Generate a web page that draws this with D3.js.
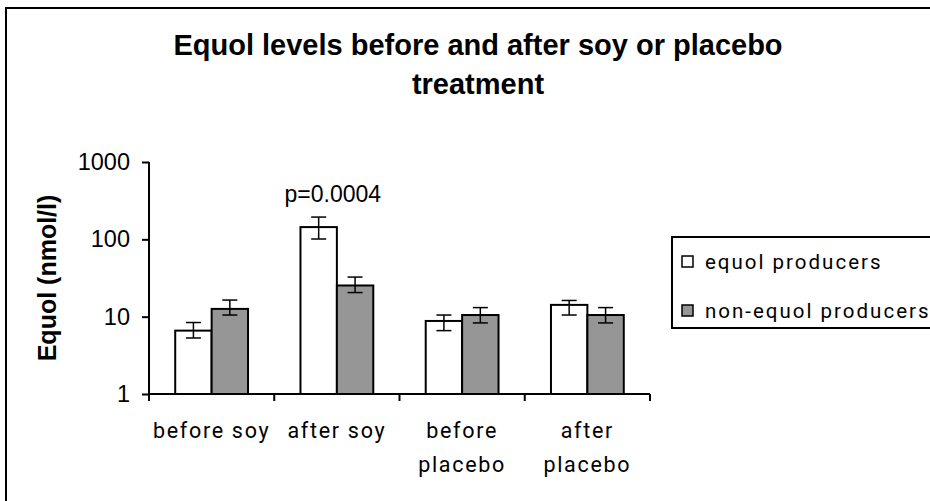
<!DOCTYPE html>
<html>
<head>
<meta charset="utf-8">
<script src="https://cdn.jsdelivr.net/npm/d3@7"></script>
<style>
  body { margin: 0; background: #fff; }
  svg { display: block; }
</style>
</head>
<body>
<div id="chart"></div>
<script>
// data
var categories = ["before soy", "after soy", "before placebo", "after placebo"]
var catLines = [["before soy"], ["after soy"], ["before", "placebo"], ["after", "placebo"]]
var seriesNames = ["equol producers", "non-equol producers"]
var producers = [6.6, 144, 8.8, 14.2]
var producersHi = [8.4, 194, 10.5, 16.2]
var producersLo = [5.3, 101, 6.6, 10.5]
var nonProducers = [12.6, 25.3, 10.5, 10.5]
var nonHi = [16.4, 32.5, 13.1, 13.1]
var nonLo = [10.5, 20.5, 8.3, 8.3]
var yTicks = [1, 10, 100, 1000]
var annotation = "p=0.0004"

var fills = ["#ffffff", "#969696"]

width = 930
height = 501

var svg = d3.select('#chart').append('svg').attr('width', width).attr('height', height)

// outer chart frame (runs off the right and bottom edge)
svg.append('rect').attr('x', 6).attr('y', 8).attr('width', 940).attr('height', 520)
  .attr('fill', 'none').attr('stroke', '#000').attr('stroke-width', 2)

// title
var title = svg.append('text').attr('text-anchor', 'middle')
  .attr('font-family', 'Liberation Sans, Arial, sans-serif').attr('font-weight', 'bold')
  .attr('font-size', 29)
title.append('tspan').attr('x', 478).attr('y', 55).text('Equol levels before and after soy or placebo')
title.append('tspan').attr('x', 478).attr('y', 94).text('treatment')

var x0 = d3.scaleBand().domain(categories).range([149, 650]).paddingInner(0).paddingOuter(0)
var x1 = d3.scaleBand().domain(seriesNames).range([0, x0.bandwidth()]).paddingInner(0).paddingOuter(0.72)
var y = d3.scaleLog().domain([1, 1000]).range([394, 162])

var rows = categories.map(function(c, i) {
  return [
    {cat: c, s: seriesNames[0], v: producers[i], hi: producersHi[i], lo: producersLo[i], k: 0},
    {cat: c, s: seriesNames[1], v: nonProducers[i], hi: nonHi[i], lo: nonLo[i], k: 1}
  ]
})

var groups = svg.append('g').selectAll('g').data(rows).join('g')
  .attr('transform', function(d) { return 'translate(' + x0(d[0].cat) + ',0)' })

groups.selectAll('rect').data(function(d) { return d }).join('rect')
  .attr('x', function(d) { return x1(d.s) })
  .attr('y', function(d) { return y(d.v) })
  .attr('width', x1.bandwidth())
  .attr('height', function(d) { return y(1) - y(d.v) })
  .attr('fill', function(d) { return fills[d.k] })
  .attr('stroke', '#000').attr('stroke-width', 2)

// error bars
var err = groups.selectAll('g.err').data(function(d) { return d }).join('g').attr('class', 'err')
  .attr('stroke', '#000').attr('stroke-width', 1.5)
err.append('line')
  .attr('x1', function(d) { return x1(d.s) + x1.bandwidth() / 2 })
  .attr('x2', function(d) { return x1(d.s) + x1.bandwidth() / 2 })
  .attr('y1', function(d) { return y(d.hi) })
  .attr('y2', function(d) { return y(d.lo) })
err.append('line')
  .attr('x1', function(d) { return x1(d.s) + x1.bandwidth() / 2 - 7.5 })
  .attr('x2', function(d) { return x1(d.s) + x1.bandwidth() / 2 + 7.5 })
  .attr('y1', function(d) { return y(d.hi) }).attr('y2', function(d) { return y(d.hi) })
err.append('line')
  .attr('x1', function(d) { return x1(d.s) + x1.bandwidth() / 2 - 7.5 })
  .attr('x2', function(d) { return x1(d.s) + x1.bandwidth() / 2 + 7.5 })
  .attr('y1', function(d) { return y(d.lo) }).attr('y2', function(d) { return y(d.lo) })

// y axis
var yAxis = svg.append('g').attr('transform', 'translate(149,0)')
  .call(d3.axisLeft(y).tickValues(yTicks).tickFormat(d3.format('d')).tickSize(7).tickPadding(12))
yAxis.select('.domain').attr('d', 'M0,' + y(1000) + 'V' + y(1)).attr('stroke-width', 2)
yAxis.selectAll('.tick line').attr('stroke-width', 2)
yAxis.selectAll('.tick text').attr('font-family', 'Liberation Sans, Arial, sans-serif')
  .attr('font-size', 23.5).attr('fill', '#000')

// x axis
var xAxis = svg.append('g').attr('transform', 'translate(0,' + y(1) + ')')
xAxis.append('line').attr('x1', 149).attr('x2', 650).attr('stroke', '#000').attr('stroke-width', 2)
var bounds = categories.map(function(c) { return x0(c) }).concat([x0.range()[1]])
xAxis.selectAll('line.tk').data(bounds).join('line').attr('class', 'tk')
  .attr('x1', function(d) { return d }).attr('x2', function(d) { return d })
  .attr('y1', 0).attr('y2', 7).attr('stroke', '#000').attr('stroke-width', 2)

var catText = svg.append('g').selectAll('text').data(categories).join('text')
  .attr('text-anchor', 'middle')
  .attr('font-family', 'Roboto, sans-serif').attr('font-size', 21.5).attr('letter-spacing', 1.7)
  .attr('fill', '#000')
catText.selectAll('tspan').data(function(d, i) { return catLines[i].map(function(t) { return {t: t, c: d} }) })
  .join('tspan')
  .attr('x', function(d) { return x0(d.c) + x0.bandwidth() / 2 })
  .attr('y', function(d, j) { return 438 + j * 34 })
  .text(function(d) { return d.t })

// y axis title
svg.append('text').attr('transform', 'translate(56,278) rotate(-90)')
  .attr('text-anchor', 'middle')
  .attr('font-family', 'Liberation Sans, Arial, sans-serif').attr('font-weight', 'bold')
  .attr('font-size', 25).text('Equol (nmol/l)')

// significance note over "after soy"
svg.append('text').attr('x', x0(categories[1]) + x0.bandwidth() / 2 - 4).attr('y', 202)
  .attr('text-anchor', 'middle')
  .attr('font-family', 'Liberation Sans, Arial, sans-serif').attr('font-size', 23)
  .text(annotation)

// legend
var legend = svg.append('g')
legend.append('rect').attr('x', 672).attr('y', 237).attr('width', 300).attr('height', 91)
  .attr('fill', '#fff').attr('stroke', '#000').attr('stroke-width', 2)
var li = legend.selectAll('g.item').data(seriesNames).join('g').attr('class', 'item')
  .attr('transform', function(d, i) { return 'translate(0,' + (262 + i * 49) + ')' })
li.append('rect').attr('x', 682).attr('y', -6).attr('width', 11).attr('height', 11)
  .attr('fill', function(d, i) { return fills[i] }).attr('stroke', '#000').attr('stroke-width', 1.5)
li.append('text').attr('x', 705).attr('y', 7)
  .attr('font-family', 'Roboto, sans-serif').attr('font-size', 20.5).attr('letter-spacing', 2)
  .text(function(d) { return d })
</script>
</body>
</html>
